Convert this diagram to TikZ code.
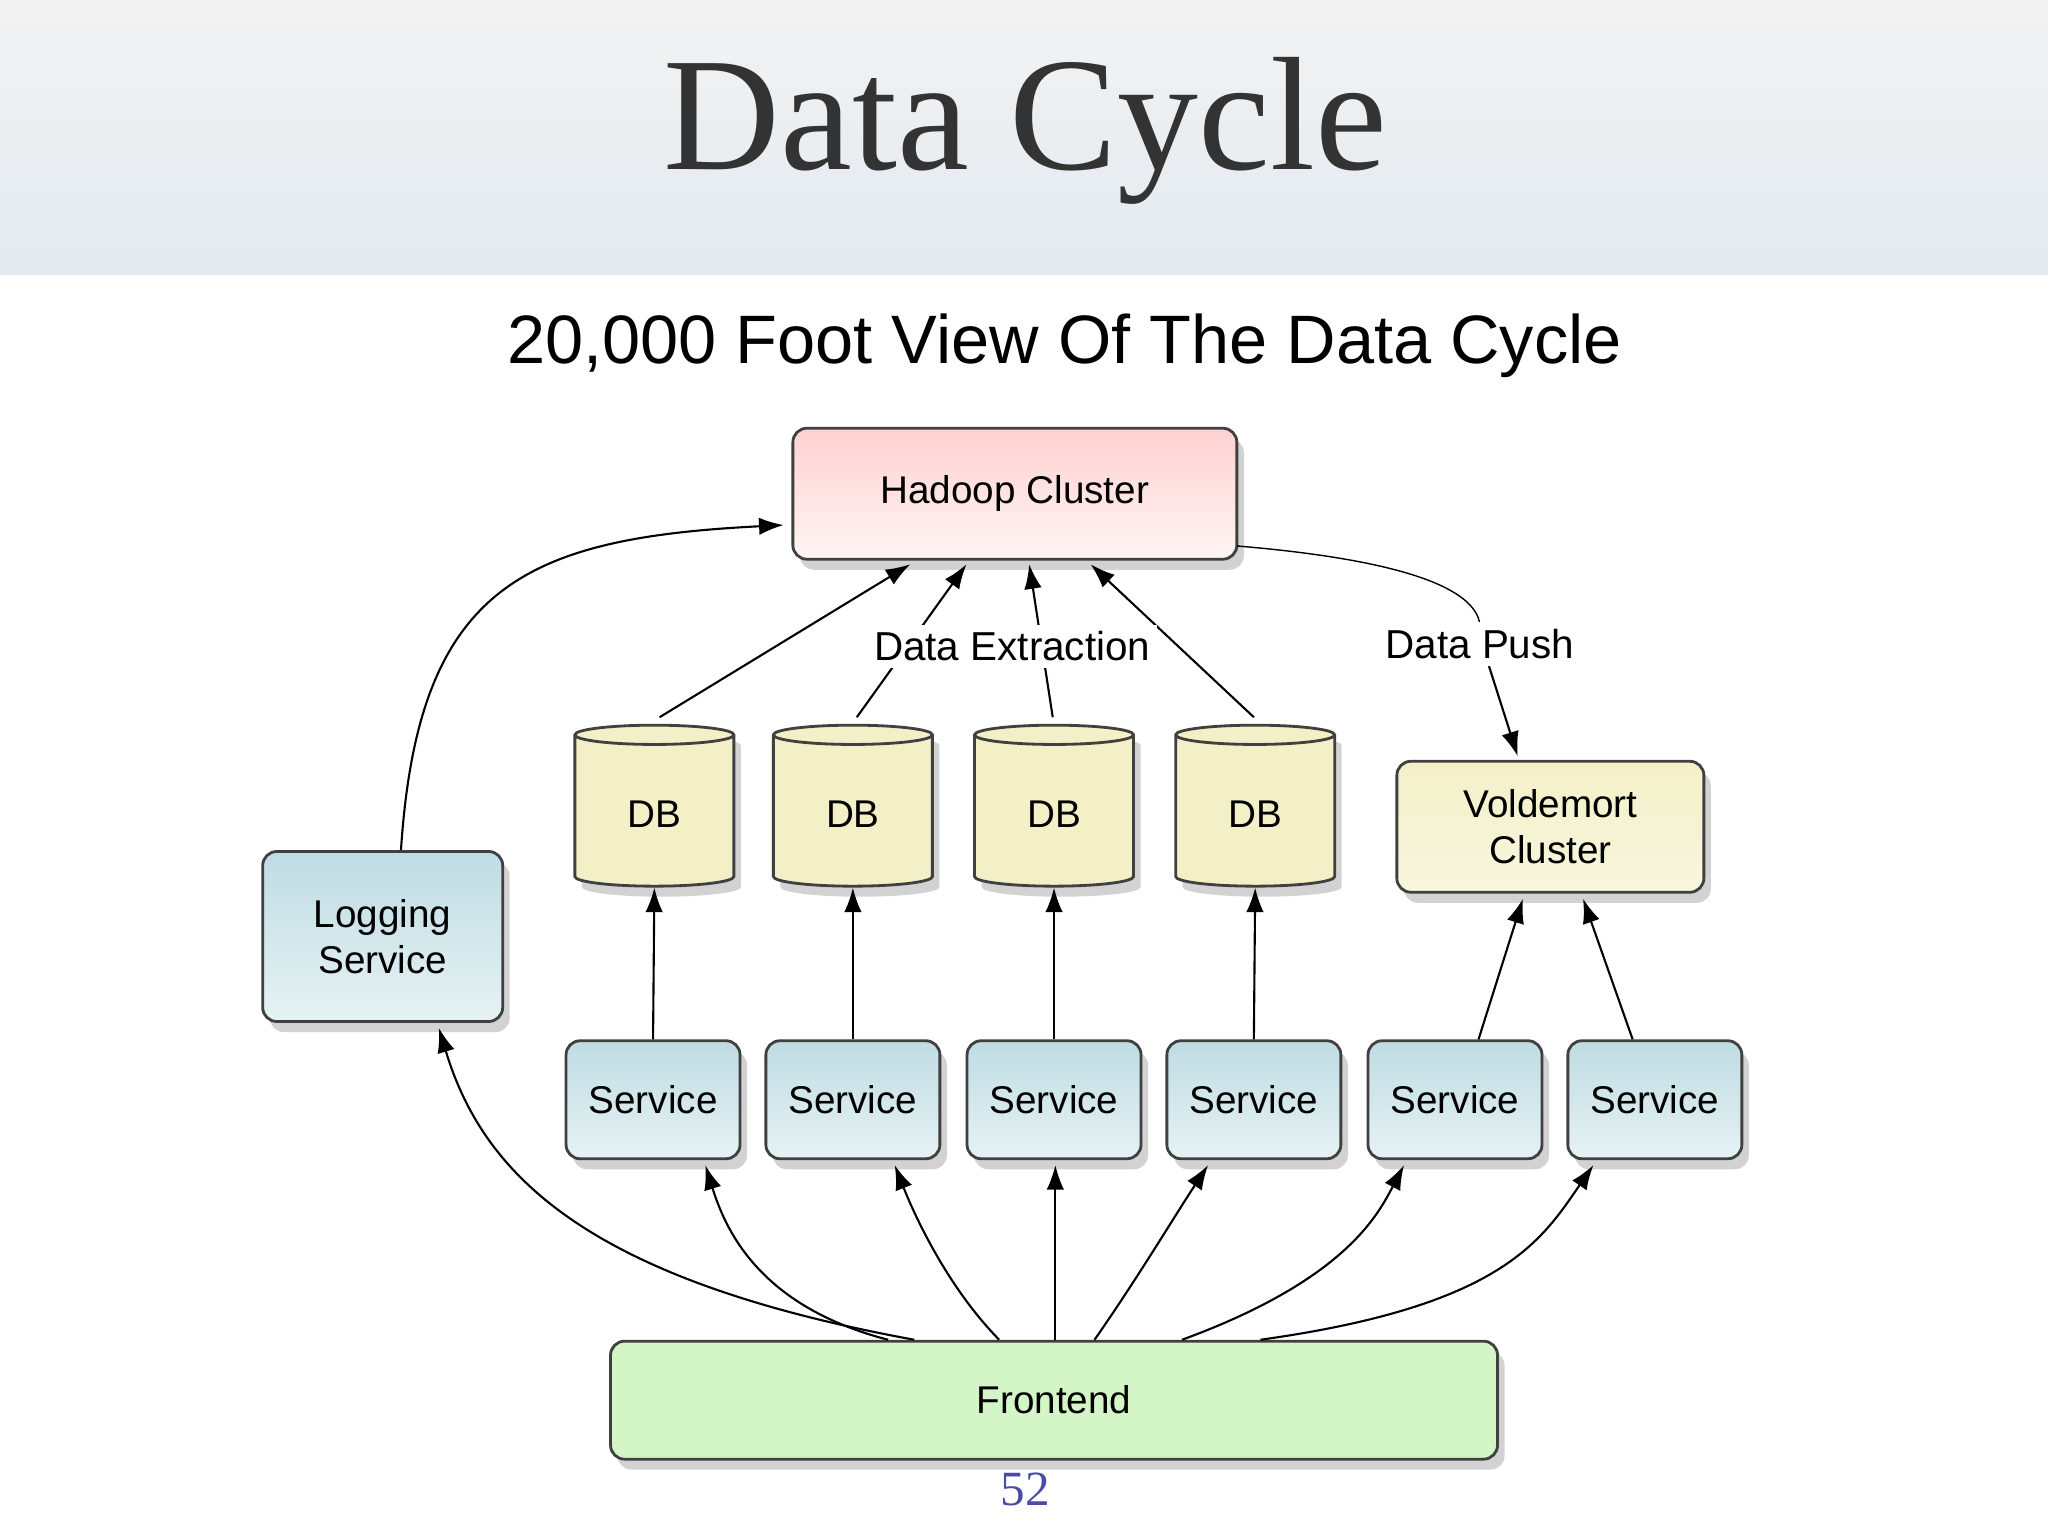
\documentclass[tikz,border=0pt]{standalone}
\usepackage{fontspec}
\setmainfont{Liberation Serif}
\newfontfamily\hv{Liberation Sans}
\usetikzlibrary{shapes.geometric,shadows,arrows.meta}
\definecolor{svc}{HTML}{BFDCE3}
\definecolor{svcl}{HTML}{E6F2F4}
\definecolor{dbc}{HTML}{F3F0C8}
\definecolor{fe}{HTML}{D4F5C6}
\definecolor{band}{HTML}{E3EAF0}
\tikzset{
  box/.style={draw=black!75,thick,rounded corners=4pt,align=center,font=\hv\fontsize{11}{13}\selectfont,
    drop shadow={shadow xshift=2pt,shadow yshift=-3pt,opacity=.35}},
  svcbox/.style={box,top color=svc,bottom color=svcl},
  db/.style={cylinder,shape border rotate=90,aspect=.25,draw=black!75,thick,fill=dbc,
    minimum width=1.59cm,minimum height=1.61cm,font=\hv\fontsize{11}{13}\selectfont,
    drop shadow={shadow xshift=2pt,shadow yshift=-3pt,opacity=.35}},
  arr/.style={-{Latex[length=7pt,width=5pt]},semithick},
  lab/.style={fill=white,inner sep=2pt,font=\hv\fontsize{11.5}{14}\selectfont}
}
\begin{document}
\begin{tikzpicture}[x=0.013061cm,y=-0.013061cm]
\useasboundingbox (0,0) rectangle (1568,1176);
\fill[white] (0,0) rectangle (1568,1176);
\shade[top color=black!5,bottom color=band] (0,0) rectangle (1568,210);
\node[text=black!80,font=\fontsize{46}{48}\selectfont] (title) at (785,100) {Data Cycle};
\node[font=\hv\fontsize{19.5}{22}\selectfont] (sub) at (815,265) {20,000 Foot View Of The Data Cycle};

\node[box,top color=red!18,bottom color=red!4,minimum width=4.44cm,minimum height=1.31cm] (had) at (777,378) {Hadoop Cluster};
\foreach \i/\x in {1/501,2/653,3/807,4/961}
  \node[db] (db\i) at (\x,623) {DB};
\node[box,top color=dbc,bottom color=dbc!60,minimum width=3.07cm,minimum height=1.31cm] (vol) at (1187,633) {Voldemort\\Cluster};
\node[svcbox,minimum width=2.40cm,minimum height=1.70cm] (log) at (293,717) {Logging\\Service};
\foreach \i/\x in {1/500,2/653,3/807,4/960,5/1114,6/1267}
  \node[svcbox,minimum width=1.74cm,minimum height=1.18cm] (s\i) at (\x,842) {Service};
\node[box,fill=fe,minimum width=8.87cm,minimum height=1.18cm] (fe) at (807,1072) {Frontend};
\node[text=blue!50!black!70,font=\fontsize{14}{16}\selectfont] (pg) at (785,1140) {52};

\coordinate (hL) at (600,402);
\coordinate (hR) at (947,418);
\coordinate (vT) at (1162,579);
\draw[arr] (log.north) ++(14,0) .. controls (320,450) and (400,412) .. (hL);
\draw[arr] (db1.north) ++(4,-5) -- (697,432);
\draw[arr] (db2.north) ++(3,-5) -- (740,432);
\draw[arr] (db3.north) ++(-1,-5) -- (788,432);
\draw[arr] (db4.north) ++(-1,-5) -- (835,432);
\node[lab] (dex) at (775,495) {Data Extraction};
\draw (hR) .. controls (1090,430) and (1130,455) .. (1133,478);
\node[lab] (dpush) at (1133,493) {Data Push};
\draw[arr] (1140,510) -- (vT);
\foreach \i in {1,2,3,4} \draw[arr] (s\i.north) -- (db\i.south);
\draw[arr] (s5.north) ++(18,0) -- (1166,688);
\draw[arr] (s6.north) ++(-17,0) -- (1212,688);
\draw[arr] (fe.north) ++(-107,0) .. controls (450,980) and (370,900) .. (336,787);
\draw[arr] (fe.north) ++(-127,0) .. controls (580,1000) and (555,940) .. (540,892);
\draw[arr] (fe.north) ++(-42,0) .. controls (725,985) and (700,930) .. (685,892);
\draw[arr] (fe.north) ++(1,0) -- (808,892);
\draw[arr] (fe.north) ++(31,0) .. controls (870,980) and (900,930) .. (925,892);
\draw[arr] (fe.north) ++(98,0) .. controls (1030,980) and (1055,930) .. (1075,892);
\draw[arr] (fe.north) ++(158,0) .. controls (1150,1000) and (1180,950) .. (1220,892);
\end{tikzpicture}
\end{document}
